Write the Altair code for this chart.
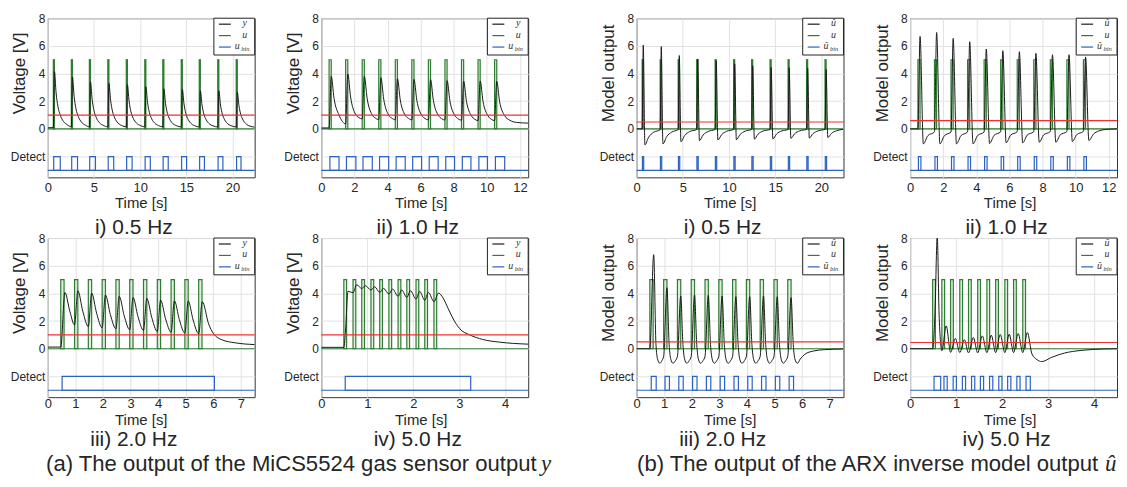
import altair as alt
import pandas as pd

W, H = 208, 160
Y_DOMAIN = [-3.5, 8]
Y_TICKS = [-2, 0, 2, 4, 6, 8]
U_LEVEL = [0, 5]
DETECT_LEVEL = [-3, -2]

# ---------------- (a) i) 0.5 Hz : sensor output y
P1_T = [0, 0.6, 0.72, 0.9, 1.1, 1.35, 1.7, 2.1,
        2.55, 2.67, 2.85, 3.05, 3.3, 3.65, 4.05,
        4.5, 4.62, 4.8, 5.0, 5.25, 5.6, 6.0,
        6.5, 6.62, 6.8, 7.0, 7.25, 7.6, 8.0,
        8.5, 8.62, 8.8, 9.0, 9.25, 9.6, 10.0,
        10.5, 10.62, 10.8, 11.0, 11.25, 11.6, 12.0,
        12.45, 12.57, 12.75, 12.95, 13.2, 13.55, 13.95,
        14.45, 14.57, 14.75, 14.95, 15.2, 15.55, 15.95,
        16.4, 16.52, 16.7, 16.9, 17.15, 17.5, 17.9,
        18.4, 18.52, 18.7, 18.9, 19.15, 19.5, 19.9,
        20.4, 20.52, 20.7, 20.9, 21.15, 21.5, 21.9, 22.4]
P1_V = [0.08, 0.1, 4.15, 2.6, 1.62, 1.0, 0.54, 0.3,
        0.16, 3.75, 2.36, 1.46, 0.9, 0.49, 0.28,
        0.15, 3.4, 2.14, 1.33, 0.82, 0.44, 0.26,
        0.15, 3.3, 2.08, 1.29, 0.79, 0.43, 0.25,
        0.15, 3.2, 2.02, 1.25, 0.77, 0.42, 0.25,
        0.15, 3.05, 1.92, 1.19, 0.73, 0.4, 0.24,
        0.15, 2.9, 1.83, 1.13, 0.7, 0.38, 0.23,
        0.14, 2.85, 1.8, 1.11, 0.68, 0.37, 0.22,
        0.14, 2.75, 1.73, 1.07, 0.66, 0.36, 0.22,
        0.14, 2.75, 1.73, 1.07, 0.66, 0.36, 0.22,
        0.14, 2.65, 1.67, 1.03, 0.64, 0.34, 0.2, 0.13]
P1_PULSE = [0.6, 2.55, 4.5, 6.5, 8.5, 10.5, 12.45, 14.45, 16.4, 18.4, 20.4]
P1_PW = 0.12
P1_ON = [0.64, 2.59, 4.54, 6.54, 8.54, 10.54, 12.49, 14.49, 16.44, 18.44, 20.44]
P1_OFF = [1.35, 3.22, 5.16, 7.14, 9.13, 11.1, 13.04, 15.03, 16.96, 18.96, 20.92]
P1_THR = 1.0

# ---------------- (a) ii) 1.0 Hz
P2_T = [0, 0.47, 0.6, 0.77, 1.07, 1.27, 1.47, 1.6, 1.77, 2.07, 2.27, 2.47,
        2.6, 2.77, 3.07, 3.27, 3.47, 3.6, 3.77, 4.07, 4.27, 4.47,
        4.6, 4.77, 5.07, 5.27, 5.47, 5.6, 5.77, 6.07, 6.27, 6.47,
        6.6, 6.77, 7.07, 7.27, 7.47, 7.6, 7.77, 8.07, 8.27, 8.47,
        8.6, 8.77, 9.07, 9.27, 9.47, 9.6, 9.77, 10.07, 10.27, 10.47,
        10.6, 10.77, 11.07, 11.4, 11.8, 12.5]
P2_V = [0.07, 0.07, 3.8, 2.2, 1.0, 0.55, 0.36, 3.97, 2.3, 1.05, 0.82, 0.72,
        3.8, 2.2, 1.02, 0.78, 0.67, 3.7, 2.15, 1.0, 0.77, 0.66,
        3.63, 2.1, 0.99, 0.76, 0.65, 3.58, 2.08, 0.98, 0.75, 0.65,
        3.56, 2.06, 0.98, 0.74, 0.64, 3.49, 2.02, 0.97, 0.73, 0.63,
        3.46, 2.0, 0.95, 0.7, 0.6, 3.46, 2.0, 0.95, 0.7, 0.6,
        3.44, 2.0, 0.97, 0.62, 0.47, 0.42]
P2_PULSE = [0.47, 1.47, 2.47, 3.47, 4.47, 5.47, 6.47, 7.47, 8.47, 9.47, 10.47]
P2_PW = 0.13
P2_ON = [0.52, 1.52, 2.52, 3.52, 4.52, 5.52, 6.52, 7.52, 8.52, 9.52, 10.52]
P2_OFF = [1.07, 2.09, 3.08, 4.07, 5.07, 6.06, 7.06, 8.05, 9.04, 10.04, 11.08]
P2_THR = 1.0

# ---------------- (b) i) 0.5 Hz : ARX inverse model output
P3_T = [0, 0.6, 0.72, 0.9, 1.3, 1.85, 2.55, 2.67, 2.85, 3.25, 3.8, 4.5,
        4.62, 4.8, 5.2, 5.75, 6.5, 6.62, 6.8, 7.2, 7.75, 8.5,
        8.62, 8.8, 9.2, 9.75, 10.5, 10.62, 10.8, 11.2, 11.75, 12.45,
        12.57, 12.75, 13.15, 13.7, 14.45, 14.57, 14.75, 15.15, 15.7, 16.4,
        16.52, 16.7, 17.1, 17.65, 18.4, 18.52, 18.7, 19.1, 19.65, 20.4,
        20.52, 20.7, 21.1, 21.65, 22.4]
P3_V = [0, 0, 6.05, -1.15, -0.6, -0.24, -0.06, 5.95, -1.08, -0.56, -0.23, -0.05,
        5.3, -0.92, -0.48, -0.19, -0.05, 5.05, -0.85, -0.44, -0.18, -0.04,
        4.93, -0.8, -0.42, -0.17, -0.04, 4.7, -0.78, -0.41, -0.16, -0.04,
        4.57, -0.74, -0.38, -0.15, -0.04, 4.45, -0.72, -0.37, -0.15, -0.04,
        4.42, -0.68, -0.35, -0.14, -0.03, 4.38, -0.66, -0.34, -0.14, -0.03,
        4.3, -0.62, -0.32, -0.13, -0.03]
P3_PULSE = [0.6, 2.55, 4.5, 6.5, 8.5, 10.5, 12.45, 14.45, 16.4, 18.4, 20.4]
P3_PW = 0.12
P3_ON = [0.63, 2.58, 4.53, 6.53, 8.53, 10.53, 12.48, 14.48, 16.43, 18.43, 20.43]
P3_OFF = [0.77, 2.72, 4.67, 6.67, 8.67, 10.67, 12.62, 14.62, 16.57, 18.57, 20.57]
P3_THR = 0.5

# ---------------- (b) ii) 1.0 Hz
P4_T = [0, 0.47, 0.6, 0.8, 1.07, 1.47, 1.6, 1.8, 2.07, 2.47, 2.6, 2.8, 3.07, 3.47,
        3.6, 3.8, 4.07, 4.47, 4.6, 4.8, 5.07, 5.47, 5.6, 5.8, 6.07, 6.47,
        6.6, 6.8, 7.07, 7.47, 7.6, 7.8, 8.07, 8.47, 8.6, 8.8, 9.07, 9.47,
        9.6, 9.8, 10.07, 10.47, 10.6, 10.8, 11.07, 11.4, 11.8, 12.5]
P4_V = [0, 0, 6.68, -1.08, -0.49, -0.22, 6.97, -1.08, -0.49, -0.22, 6.54, -1.08, -0.49, -0.22,
        6.3, -1.08, -0.49, -0.22, 5.77, -1.05, -0.47, -0.21, 5.65, -1.0, -0.45, -0.2,
        5.58, -1.0, -0.45, -0.2, 5.46, -0.96, -0.43, -0.19, 5.36, -0.96, -0.43, -0.19,
        5.36, -0.91, -0.41, -0.18, 5.2, -0.84, -0.38, -0.15, -0.04, 0]
P4_PULSE = [0.47, 1.47, 2.47, 3.47, 4.47, 5.47, 6.47, 7.47, 8.47, 9.47, 10.47]
P4_PW = 0.13
P4_ON = [0.5, 1.5, 2.5, 3.5, 4.5, 5.5, 6.5, 7.5, 8.5, 9.5, 10.5]
P4_OFF = [0.65, 1.65, 2.65, 3.65, 4.65, 5.65, 6.65, 7.65, 8.65, 9.65, 10.65]
P4_THR = 0.6

# ---------------- (a) iii) 2.0 Hz
P5_T = [0, 0.47, 0.62, 0.8, 0.97, 1.09, 1.27, 1.47, 1.59, 1.77, 1.97, 2.09, 2.27, 2.47,
        2.59, 2.77, 2.97, 3.09, 3.27, 3.47, 3.59, 3.77, 3.97, 4.09, 4.27, 4.47,
        4.59, 4.77, 4.97, 5.09, 5.27, 5.47, 5.6, 5.83, 6.01, 6.31, 6.79, 7.5]
P5_V = [0.12, 0.12, 4.07, 2.7, 1.72, 4.19, 2.7, 1.6, 4.02, 2.57, 1.51, 3.88, 2.46, 1.44,
        3.79, 2.38, 1.37, 3.71, 2.32, 1.32, 3.64, 2.25, 1.25, 3.52, 2.16, 1.2,
        3.47, 2.1, 1.13, 3.45, 2.07, 1.08, 3.4, 1.8, 1.08, 0.65, 0.43, 0.3]
P5_PULSE = [0.47, 0.97, 1.47, 1.97, 2.47, 2.97, 3.47, 3.97, 4.47, 4.97, 5.47]
P5_PW = 0.12
P5_ON = [0.52]
P5_OFF = [6.04]
P5_THR = 1.0

# ---------------- (a) iv) 5.0 Hz
P6_T = [0, 0.49, 0.53, 0.58, 0.69, 0.77, 0.88, 0.96, 1.08, 1.16, 1.27, 1.355,
        1.47, 1.55, 1.67, 1.75, 1.86, 1.94, 2.06, 2.14, 2.25, 2.33, 2.45, 2.55,
        2.66, 2.76, 2.87, 3.01, 3.23, 3.51, 3.87, 4.5]
P6_V = [0.1, 0.1, 1.5, 4.15, 4.05, 4.62, 4.36, 4.55, 4.24, 4.48, 4.07, 4.36,
        3.95, 4.31, 3.79, 4.24, 3.71, 4.19, 3.59, 4.14, 3.5, 4.07, 3.4, 4.02,
        3.6, 2.9, 2.15, 1.45, 1.0, 0.67, 0.48, 0.33]
P6_PULSE = [0.49, 0.69, 0.88, 1.08, 1.27, 1.47, 1.67, 1.86, 2.06, 2.25, 2.45]
P6_PW = 0.06
P6_ON = [0.52]
P6_OFF = [3.25]
P6_THR = 1.0

# ---------------- (b) iii) 2.0 Hz
P7_T = [0, 0.48, 0.62, 0.7, 0.76, 0.84, 0.92,
        0.98, 1.1, 1.18, 1.24, 1.32, 1.41,
        1.48, 1.6, 1.68, 1.74, 1.82, 1.91,
        1.98, 2.1, 2.18, 2.24, 2.32, 2.41,
        2.48, 2.6, 2.68, 2.74, 2.82, 2.91,
        2.98, 3.1, 3.18, 3.24, 3.32, 3.41,
        3.48, 3.6, 3.68, 3.74, 3.82, 3.91,
        3.98, 4.1, 4.18, 4.24, 4.32, 4.41,
        4.48, 4.6, 4.68, 4.74, 4.82, 4.91,
        4.98, 5.1, 5.18, 5.24, 5.32, 5.41,
        5.48, 5.6, 5.68, 5.74, 5.83, 5.93, 6.1, 6.4, 6.8, 7.5]
P7_V = [0, 0, 6.8, 0.4, -0.75, -1.05, -0.85,
        -0.55, 4.41, 0.3, -0.75, -1.05, -0.85,
        -0.55, 3.81, 0.3, -0.75, -1.05, -0.85,
        -0.55, 3.88, 0.3, -0.75, -1.05, -0.85,
        -0.55, 3.86, 0.3, -0.75, -1.05, -0.85,
        -0.55, 3.81, 0.3, -0.75, -1.05, -0.85,
        -0.55, 3.76, 0.3, -0.75, -1.05, -0.85,
        -0.55, 3.76, 0.3, -0.75, -1.05, -0.85,
        -0.55, 3.81, 0.3, -0.75, -1.05, -0.85,
        -0.55, 3.76, 0.3, -0.75, -1.05, -0.85,
        -0.55, 3.69, 0.3, -0.75, -1.05, -0.75, -0.4, -0.17, -0.07, -0.02]
P7_PULSE = [0.48, 0.98, 1.48, 1.98, 2.48, 2.98, 3.48, 3.98, 4.48, 4.98, 5.48]
P7_PW = 0.12
P7_ON = [0.53, 1.03, 1.53, 2.03, 2.53, 3.03, 3.53, 4.03, 4.53, 5.03, 5.53]
P7_OFF = [0.71, 1.19, 1.69, 2.19, 2.69, 3.19, 3.69, 4.19, 4.69, 5.19, 5.69]
P7_THR = 0.5

# ---------------- (b) iv) 5.0 Hz
P8_T = [0, 0.49, 0.54, 0.59, 0.63, 0.69, 0.785, 0.88, 0.985, 1.08, 1.18, 1.27,
        1.375, 1.47, 1.57, 1.67, 1.765, 1.86, 1.96, 2.06, 2.155, 2.25, 2.35, 2.45,
        2.55, 2.65, 2.76, 2.86, 3.08, 3.36, 3.72, 4.22, 4.5]
P8_V = [0, 0, 2.5, 8.15, 2.5, -0.15, 1.65, -0.26, 0.74, -0.28, 0.65, -0.3,
        0.81, -0.3, 0.93, -0.28, 0.98, -0.28, 1.03, -0.28, 1.05, -0.28, 1.1, -0.28,
        1.17, -0.38, -0.79, -0.93, -0.62, -0.31, -0.12, -0.02, 0]
P8_PULSE = [0.49, 0.69, 0.88, 1.08, 1.27, 1.47, 1.67, 1.86, 2.06, 2.25, 2.45]
P8_PW = 0.06
P8_ON = [0.52, 0.736, 0.936, 1.136, 1.336, 1.528, 1.728, 1.928, 2.121, 2.321, 2.521]
P8_OFF = [0.665, 0.806, 1.006, 1.206, 1.406, 1.598, 1.798, 1.998, 2.191, 2.391, 2.614]
P8_THR = 0.45

X_MAX = [22.4, 12.5, 7.5, 4.5]
X_TICKS = [[0, 5, 10, 15, 20], [0, 2, 4, 6, 8, 10, 12], [0, 1, 2, 3, 4, 5, 6, 7], [0, 1, 2, 3, 4]]
SUBTITLES = ["i) 0.5 Hz", "ii) 1.0 Hz", "iii) 2.0 Hz", "iv) 5.0 Hz"]
LEG_Y = [("y", ""), ("u", ""), ("u", "bin")]
LEG_U = [("\u00fb", ""), ("u", ""), ("\u00fb", "bin")]
CAPTION_A = ("(a) The output of the MiCS5524 gas sensor output", "y")
CAPTION_B = ("(b) The output of the ARX inverse model output", "\u00fb")

GREEN = "#2f7d32"
BLUE = "#2a62c4"
RED = "#f03030"
BLACK = "#1a1a1a"
TXT = "#262626"
SANS = "Liberation Sans"
SERIF = "Liberation Serif"


def one(**kw):
    return pd.DataFrame({k: [v] for k, v in kw.items()})


def panel(T, V, starts, pw, on, off, thr, xmax, xticks, ytitle, leg, sub, row, side, caption=None):
    xs = alt.Scale(domain=[0, xmax], nice=False, zero=False)
    ys = alt.Scale(domain=Y_DOMAIN, nice=False, zero=False)
    xaxis = alt.Axis(values=xticks, title="Time [s]", titleX=93.5 if side == 0 else 100,
                     titleY=18.8 if row == 0 else 15.4, titleBaseline="top",
                     labelPadding=4 if row == 0 else 0.5, labelFlush=False, labelOverlap=False,
                     grid=True, ticks=False, tickSize=0, domain=False,
                     labelFontSize=13, titleFontSize=15)
    yaxis = alt.Axis(values=Y_TICKS, title=ytitle,
                     labelExpr="datum.value == -2 ? 'Detect' : datum.label",
                     titleX=-19, titleY=55, labelPadding=3, labelFlush=False, labelOverlap=False,
                     grid=True, ticks=False, tickSize=0, domain=False,
                     labelFontSize=12, titleFontSize=17)

    def X(f):
        return alt.X(f, scale=xs, axis=xaxis)

    def Y(f):
        return alt.Y(f, scale=ys, axis=yaxis)

    curve = pd.DataFrame({"t": T, "v": V})
    pulses = pd.DataFrame({"s": starts, "e": [s + pw for s in starts],
                           "lo": U_LEVEL[0], "hi": U_LEVEL[1]})
    det = pd.DataFrame({"s": on, "e": off, "lo": DETECT_LEVEL[0], "hi": DETECT_LEVEL[1]})

    layers = []
    layers.append(alt.Chart(one(z=U_LEVEL[0])).mark_rule(color=GREEN, strokeWidth=1.2)
                  .encode(y=Y("z:Q")))
    layers.append(alt.Chart(pulses).mark_rect(stroke=GREEN, strokeWidth=1.2, fill="#9ccb9c",
                                              fillOpacity=0.3)
                  .encode(x=X("s:Q"), x2="e:Q", y=Y("lo:Q"), y2="hi:Q"))
    layers.append(alt.Chart(one(z=DETECT_LEVEL[0])).mark_rule(color=BLUE, strokeWidth=1.2)
                  .encode(y=Y("z:Q")))
    layers.append(alt.Chart(det).mark_rect(stroke=BLUE, strokeWidth=1.2, fillOpacity=0)
                  .encode(x=X("s:Q"), x2="e:Q", y=Y("lo:Q"), y2="hi:Q"))
    layers.append(alt.Chart(curve).mark_line(color=BLACK, strokeWidth=1, interpolate="monotone",
                                             clip=True)
                  .encode(x=X("t:Q"), y=Y("v:Q")))
    layers.append(alt.Chart(one(z=thr)).mark_rule(color=RED, strokeWidth=1.2)
                  .encode(y=Y("z:Q")))

    # legend box
    layers.append(alt.Chart(one(a=0)).mark_rect(fill="white", stroke="#222222", strokeWidth=1)
                  .encode(x=alt.value(W - 41), x2=alt.value(W), y=alt.value(0), y2=alt.value(37)))
    rows_y = [6, 17.5, 29]
    cols = [BLACK, GREEN, BLUE]
    for (main, subs), ry, c in zip(leg, rows_y, cols):
        layers.append(alt.Chart(one(a=0)).mark_rule(color=c, strokeWidth=1.2)
                      .encode(x=alt.value(W - 36), x2=alt.value(W - 24), y=alt.value(ry)))
        if subs:
            layers.append(alt.Chart(one(txt=main)).mark_text(font=SERIF, fontStyle="italic",
                                                             fontSize=10, color="#333333",
                                                             baseline="middle", align="center")
                          .encode(x=alt.value(W - 17.5), y=alt.value(ry - 1), text="txt:N"))
            layers.append(alt.Chart(one(txt=subs)).mark_text(font=SERIF, fontStyle="italic",
                                                             fontSize=6.5, color="#333333",
                                                             baseline="middle", align="left")
                          .encode(x=alt.value(W - 13.5), y=alt.value(ry + 2), text="txt:N"))
        else:
            layers.append(alt.Chart(one(txt=main)).mark_text(font=SERIF, fontStyle="italic",
                                                             fontSize=10, color="#333333",
                                                             baseline="middle", align="center")
                          .encode(x=alt.value(W - 10), y=alt.value(ry - 1), text="txt:N"))

    # panel subtitle
    layers.append(alt.Chart(one(txt=sub)).mark_text(font=SANS, fontSize=21, color=TXT,
                                                    baseline="alphabetic", align="center")
                  .encode(x=alt.value(86.5 if side == 0 else 97),
                          y=alt.value(216.5 if row == 0 else 209.5), text="txt:N"))
    if caption is not None:
        main, it = caption
        layers.append(alt.Chart(one(txt=main)).mark_text(font=SANS, fontSize=22.2, color=TXT,
                                                         baseline="alphabetic", align="right")
                      .encode(x=alt.value(491.5 if it == "y" else 464), y=alt.value(234),
                              text="txt:N"))
        layers.append(alt.Chart(one(txt=it)).mark_text(font=SERIF, fontStyle="italic",
                                                       fontSize=23, color=TXT,
                                                       baseline="alphabetic", align="left")
                      .encode(x=alt.value(496 if it == "y" else 471), y=alt.value(234),
                              text="txt:N"))
    return alt.layer(*layers).properties(width=W, height=H)


def spacer(w):
    return (alt.Chart(one(a=0)).mark_point(opacity=0)
            .encode(x=alt.value(0), y=alt.value(0))
            .properties(width=w, height=H, view=alt.ViewBackground(stroke="transparent")))


VY = "Voltage [V]"
MO = "Model output"
p1 = panel(P1_T, P1_V, P1_PULSE, P1_PW, P1_ON, P1_OFF, P1_THR, X_MAX[0], X_TICKS[0], VY, LEG_Y, SUBTITLES[0], 0, 0)
p2 = panel(P2_T, P2_V, P2_PULSE, P2_PW, P2_ON, P2_OFF, P2_THR, X_MAX[1], X_TICKS[1], VY, LEG_Y, SUBTITLES[1], 0, 1)
p3 = panel(P3_T, P3_V, P3_PULSE, P3_PW, P3_ON, P3_OFF, P3_THR, X_MAX[0], X_TICKS[0], MO, LEG_U, SUBTITLES[0], 0, 0)
p4 = panel(P4_T, P4_V, P4_PULSE, P4_PW, P4_ON, P4_OFF, P4_THR, X_MAX[1], X_TICKS[1], MO, LEG_U, SUBTITLES[1], 0, 1)
p5 = panel(P5_T, P5_V, P5_PULSE, P5_PW, P5_ON, P5_OFF, P5_THR, X_MAX[2], X_TICKS[2], VY, LEG_Y, SUBTITLES[2], 1, 0, CAPTION_A)
p6 = panel(P6_T, P6_V, P6_PULSE, P6_PW, P6_ON, P6_OFF, P6_THR, X_MAX[3], X_TICKS[3], VY, LEG_Y, SUBTITLES[3], 1, 1)
p7 = panel(P7_T, P7_V, P7_PULSE, P7_PW, P7_ON, P7_OFF, P7_THR, X_MAX[2], X_TICKS[2], MO, LEG_U, SUBTITLES[2], 1, 0, CAPTION_B)
p8 = panel(P8_T, P8_V, P8_PULSE, P8_PW, P8_ON, P8_OFF, P8_THR, X_MAX[3], X_TICKS[3], MO, LEG_U, SUBTITLES[3], 1, 1)

cells = [p1, spacer(67), p2, spacer(109), p3, spacer(67), p4,
         p5, spacer(67), p6, spacer(109), p7, spacer(67), p8]

chart = (alt.concat(*cells, columns=7, spacing={"row": 61, "column": 0}, bounds="flush")
         .properties(padding={"left": 1, "top": 2, "right": 0, "bottom": 0})
         .configure(font=SANS)
         .configure_view(stroke="#333333", strokeWidth=1)
         .configure_axis(gridColor="#e2e2e2", gridWidth=1, labelColor=TXT, titleColor=TXT,
                         titleFontWeight="normal", labelFont=SANS, titleFont=SANS))

chart.save("out.html", embed_options={"renderer": "svg", "actions": False})
